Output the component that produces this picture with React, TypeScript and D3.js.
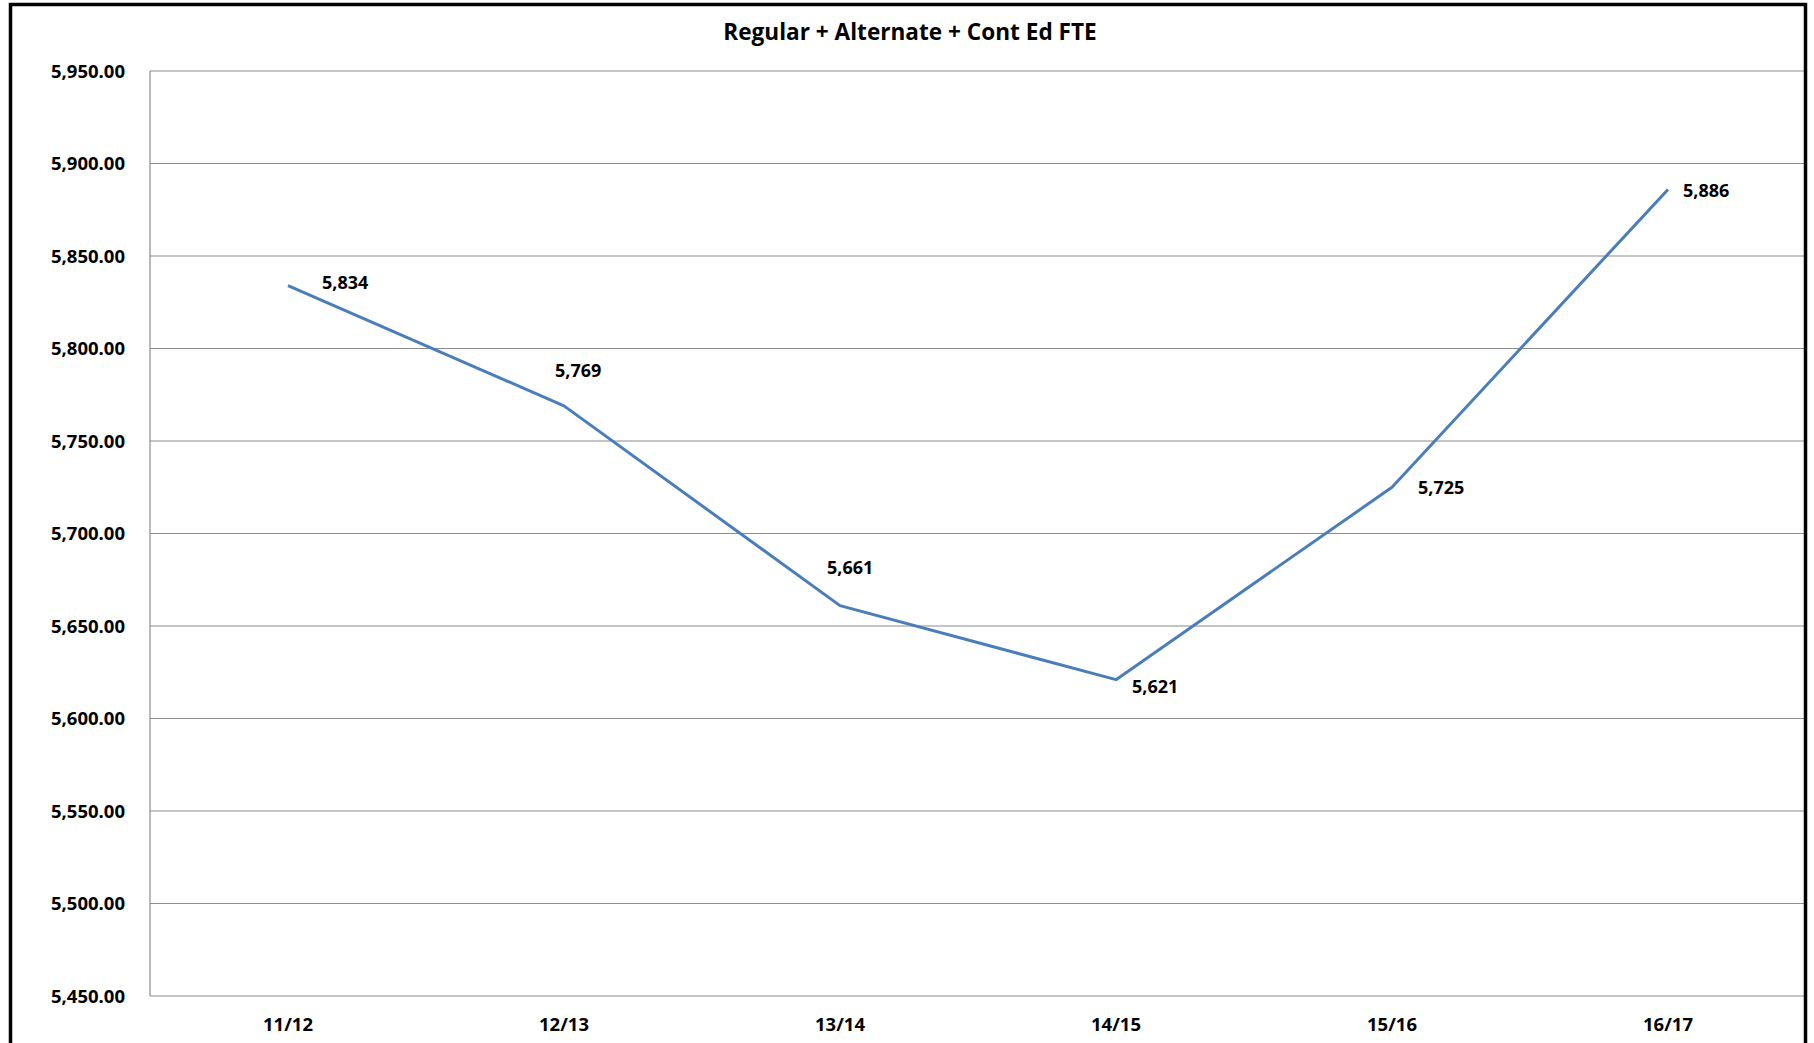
import React from "react";
import * as d3 from "d3";

const title = "Regular + Alternate + Cont Ed FTE";
const categories = ["11/12", "12/13", "13/14", "14/15", "15/16", "16/17"];
const fteValues = [5834, 5769, 5661, 5621, 5725, 5886];
const yTickValues = [5450, 5500, 5550, 5600, 5650, 5700, 5750, 5800, 5850, 5900, 5950];
// label placement relative to each point (dx to text start, dy to baseline)
const labelOffsets: [number, number][] = [
  [34, 3.5],
  [-9, -29],
  [-13, -32],
  [16, 13],
  [26, 7],
  [15, 8],
];

const W = 1814;
const H = 1043;
const plot = { left: 150, right: 1806, top: 71, bottom: 996 };
const FONT = "'Open Sans', 'Noto Sans', sans-serif";

export default function App() {
  const x = d3
    .scaleBand<string>()
    .domain(categories)
    .range([plot.left, plot.right])
    .padding(0);
  const y = d3.scaleLinear().domain([5450, 5950]).range([plot.bottom, plot.top]);
  const cx = (c: string) => (x(c) as number) + x.bandwidth() / 2;

  const line = d3
    .line<number>()
    .x((_, i) => cx(categories[i]))
    .y((d) => y(d));

  const fmtAxis = d3.format(",.2f");
  const fmtLabel = d3.format(",.0f");

  return (
    <svg
      width={W}
      height={H}
      style={{ position: "absolute", left: 0, top: 0, background: "#fff" }}
      fontFamily={FONT}
    >
      <rect x={0} y={0} width={W} height={H} fill="#fff" />
      {/* gridlines */}
      {yTickValues.map((t) => (
        <line
          key={t}
          x1={plot.left}
          x2={plot.right}
          y1={y(t)}
          y2={y(t)}
          stroke="#8c8c8c"
          strokeWidth={1.2}
        />
      ))}
      <line
        x1={plot.left}
        x2={plot.left}
        y1={plot.top}
        y2={plot.bottom}
        stroke="#8c8c8c"
        strokeWidth={1.2}
      />
      {/* y axis labels */}
      {yTickValues.map((t) => (
        <text
          key={"l" + t}
          x={125}
          y={y(t) + 6.5}
          textAnchor="end"
          fontSize={18.5}
          fontWeight="bold"
          fill="#000"
        >
          {fmtAxis(t)}
        </text>
      ))}
      {/* x axis labels */}
      {categories.map((c) => (
        <text
          key={c}
          x={cx(c)}
          y={plot.bottom + 35}
          textAnchor="middle"
          fontSize={18.5}
          fontWeight="bold"
          fill="#000"
        >
          {c}
        </text>
      ))}
      {/* series line */}
      <path d={line(fteValues) || ""} fill="none" stroke="#4a7ebb" strokeWidth={3} strokeLinejoin="round" />
      {/* data labels */}
      {fteValues.map((v, i) => (
        <text
          key={"d" + i}
          x={cx(categories[i]) + labelOffsets[i][0]}
          y={y(v) + labelOffsets[i][1]}
          fontSize={18}
          fontWeight="bold"
          fill="#000"
        >
          {fmtLabel(v)}
        </text>
      ))}
      {/* title */}
      <text x={910} y={40} textAnchor="middle" fontSize={22.6} fontWeight="bold" fill="#000">
        {title}
      </text>
      {/* chart frame */}
      <rect x={10.5} y={4.5} width={1795} height={1100} fill="none" stroke="#000" strokeWidth={3.5} />
    </svg>
  );
}
